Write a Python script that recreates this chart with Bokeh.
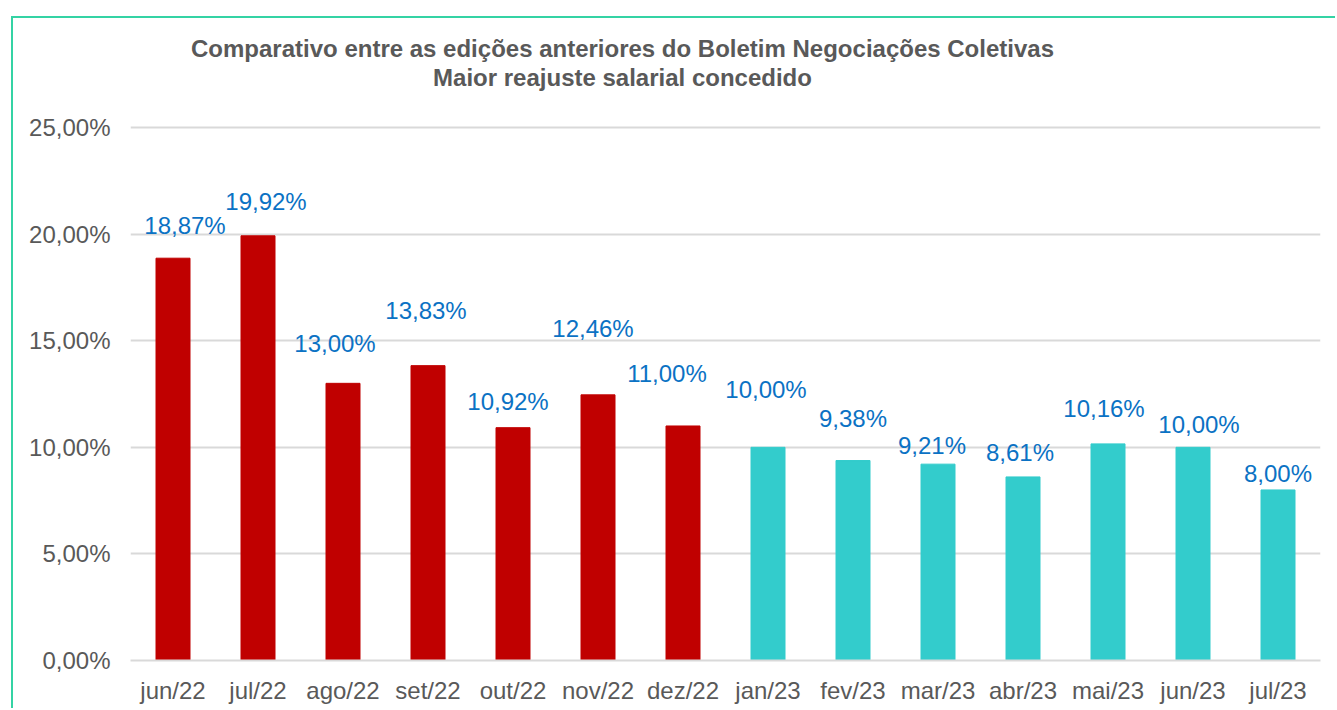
from bokeh.plotting import figure
from bokeh.models import (ColumnDataSource, FactorRange, Range1d, LabelSet, Label,
                          CustomJSTickFormatter, FixedTicker)
from bokeh.core.properties import value
from bokeh.embed import file_html
from bokeh.resources import INLINE

# ---- data ----
months = ["jun/22", "jul/22", "ago/22", "set/22", "out/22", "nov/22", "dez/22",
          "jan/23", "fev/23", "mar/23", "abr/23", "mai/23", "jun/23", "jul/23"]
values = [18.87, 19.92, 13.00, 13.83, 10.92, 12.46, 11.00,
          10.00, 9.38, 9.21, 8.61, 10.16, 10.00, 8.00]
years = ["2022"] * 7 + ["2023"] * 7
y_ticks = [0, 5, 10, 15, 20, 25]
title_lines = ["Comparativo entre as edições anteriores do Boletim Negociações Coletivas",
               "Maior reajuste salarial concedido"]

# ---- label placement (pixels, style only) ----
label_dx = [12, 8, -8, -2, -5, -5, -16, -2, 0, -6, -3, -4, 6, 0]
label_dy = [33, 34, 40, 55, 26, 66, 52, 58, 42, 19, 24, 35, 23, 16]

FONT = "Liberation Sans"
GREY = "#595959"
BORDER = "#34D3A4"
color_map = {"2022": "#C00000", "2023": "#33CCCC"}

src = ColumnDataSource(dict(
    m=months, v=values,
    c=[color_map[y] for y in years],
    t=[f"{v:.2f}".replace(".", ",") + "%" for v in values],
    dx=label_dx, dy=label_dy,
))

# frame spans the whole height above the axis so that the title fits inside it;
# the top of the y range is chosen so that 25 % sits where the reference grid is
FRAME_H = 642
Y_TOP = 25 * FRAME_H / 533

p = figure(x_range=FactorRange(*months), y_range=Range1d(0, Y_TOP),
           width=1324, height=692, output_backend="svg", toolbar_location=None,
           min_border_left=117, min_border_right=17, min_border_top=0,
           min_border_bottom=50,
           styles={"margin-left": "11px", "margin-top": "16px",
                   "border-left": f"2px solid {BORDER}",
                   "border-top": f"2px solid {BORDER}"})
p.outline_line_color = None
p.background_fill_color = "white"

p.vbar(x="m", top="v", width=0.4, color="c", source=src)

p.add_layout(LabelSet(x="m", y="v", text="t", x_offset="dx", y_offset="dy",
                      source=src, text_align="center", text_baseline="middle",
                      text_font=value(FONT), text_font_size=value("24px"),
                      text_color=value("#0B72C4")))

# axes
p.yaxis.ticker = FixedTicker(ticks=y_ticks)
p.yaxis.formatter = CustomJSTickFormatter(
    code="return tick.toFixed(2).replace('.', ',') + '%';")
p.yaxis.axis_line_color = None
p.yaxis.major_tick_line_color = None
p.yaxis.minor_tick_line_color = None
p.yaxis.major_label_standoff = 14
p.yaxis.major_label_text_font = FONT
p.yaxis.major_label_text_font_size = "24px"
p.yaxis.major_label_text_color = GREY

p.xaxis.axis_line_color = "#D9D9D9"
p.xaxis.axis_line_width = 2
p.xaxis.major_tick_line_color = None
p.xaxis.minor_tick_line_color = None
p.xaxis.major_label_standoff = 10
p.xaxis.major_label_text_font = FONT
p.xaxis.major_label_text_font_size = "24px"
p.xaxis.major_label_text_color = GREY

p.xgrid.grid_line_color = None
p.ygrid.grid_line_color = "#D9D9D9"
p.ygrid.grid_line_width = 2

# title (two lines), positioned in screen pixels relative to the plot frame
for i, line in enumerate(title_lines):
    p.add_layout(Label(x=492, y=612 - 29 * i, x_units="screen", y_units="screen",
                       text=line, text_align="center", text_baseline="middle",
                       text_font=FONT, text_font_style="bold", text_font_size="24px",
                       text_color=GREY))

open("out.html", "w").write(file_html(p, INLINE))
